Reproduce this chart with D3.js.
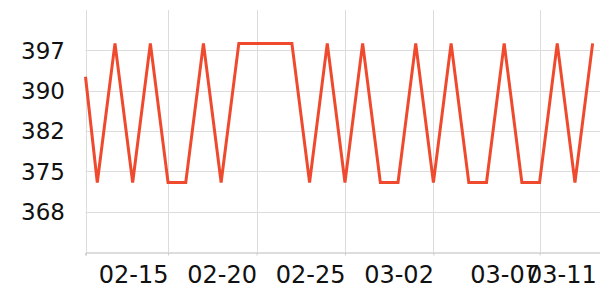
<!DOCTYPE html>
<meta charset="utf-8">
<style>
body { margin: 0; background: #fff; }
text { font-family: "DejaVu Sans", sans-serif; fill: #111; }
</style>
<body>
<svg width="600" height="300"></svg>
<script src="https://cdnjs.cloudflare.com/ajax/libs/d3/7.8.5/d3.min.js"></script>
<script>
// readings, one per day (first point is mid-morning of 02-10)
var dates = [
  "2023-02-10 08:00", "2023-02-11 00:00", "2023-02-12 00:00", "2023-02-13 00:00",
  "2023-02-14 00:00", "2023-02-15 00:00", "2023-02-16 00:00", "2023-02-17 00:00",
  "2023-02-18 00:00", "2023-02-19 00:00", "2023-02-20 00:00", "2023-02-21 00:00",
  "2023-02-22 00:00", "2023-02-23 00:00", "2023-02-24 00:00", "2023-02-25 00:00",
  "2023-02-26 00:00", "2023-02-27 00:00", "2023-02-28 00:00", "2023-03-01 00:00",
  "2023-03-02 00:00", "2023-03-03 00:00", "2023-03-04 00:00", "2023-03-05 00:00",
  "2023-03-06 00:00", "2023-03-07 00:00", "2023-03-08 00:00", "2023-03-09 00:00",
  "2023-03-10 00:00", "2023-03-11 00:00"
]
var values = [
  392, 373, 398, 373, 398, 373, 373, 398, 373, 398,
  398, 398, 398, 373, 398, 373, 398, 373, 373, 398,
  373, 398, 373, 373, 398, 373, 373, 398, 373, 398
]
var xEnd = "2023-03-11 10:00"
var xTickDates = ["2023-02-15 00:00", "2023-02-20 00:00", "2023-02-25 00:00", "2023-03-02 00:00", "2023-03-08 00:00", "2023-03-11 05:00"]
var xTickLabels = ["02-15", "02-20", "02-25", "03-02", "03-07", "03-11"]
var yDomain = [360.5, 404]
var yTicks = [367.75, 375, 382.25, 389.5, 396.75]
var yTickLabels = ["368", "375", "382", "390", "397"]

var parse = d3.timeParse("%Y-%m-%d %H:%M")
var data = dates.map(function(d, i) {
  return {date: parse(d), value: values[i]}
})

var mLeft = 85.5, mRight = 600, mTop = 10, mBottom = 252

var x = d3.scaleTime()
  .domain([data[0].date, parse(xEnd)])
  .range([mLeft, mRight])
var y = d3.scaleLinear()
  .domain(yDomain)
  .range([mBottom, mTop])

var svg = d3.select('svg')

// grid
svg.append('g').selectAll('line')
  .data(yTicks)
  .enter().append('line')
  .attr('x1', mLeft).attr('x2', mRight)
  .attr('y1', function(d) { return Math.round(y(d)) + 0.5 })
  .attr('y2', function(d) { return Math.round(y(d)) + 0.5 })
  .attr('stroke', '#dcdcdc')

var xt = xTickDates.map(parse)
// no gridline under the last label, it sits at the chart edge
svg.append('g').selectAll('line')
  .data([data[0].date].concat(xt.slice(0, -1)))
  .enter().append('line')
  .attr('x1', function(d) { return Math.round(x(d)) + 0.5 })
  .attr('x2', function(d) { return Math.round(x(d)) + 0.5 })
  .attr('y1', mTop).attr('y2', mBottom)
  .attr('stroke', '#dcdcdc')

// x axis
var xAxis = d3.axisBottom(x)
  .tickValues([data[0].date].concat(xt))
  .tickSize(3)
  .tickPadding(10)
  .tickFormat(function(d, i) { return i === 0 ? '' : xTickLabels[i - 1] })

var gx = svg.append('g')
  .attr('transform', 'translate(0,' + (mBottom + 0.5) + ')')
  .call(xAxis)
gx.select('.domain').attr('stroke', '#bbb')
gx.selectAll('.tick line').attr('stroke', '#ccc')
gx.selectAll('.tick line').filter(function(d, i) { return i === xt.length }).remove()
gx.selectAll('.tick text')
  .attr('text-anchor', 'end')
  .attr('font-size', 24)
  .attr('fill', '#111')

// y labels
svg.append('g').selectAll('text')
  .data(yTicks)
  .enter().append('text')
  .attr('x', 65)
  .attr('y', function(d) { return y(d) })
  .attr('dy', '0.36em')
  .attr('text-anchor', 'end')
  .attr('font-size', 23)
  .text(function(d, i) { return yTickLabels[i] })

// line
var line = d3.line()
  .x(function(d) { return x(d.date) })
  .y(function(d) { return y(d.value) })

svg.append('path')
  .datum(data)
  .attr('d', line)
  .attr('fill', 'none')
  .attr('stroke', '#ef4a2e')
  .attr('stroke-width', 3)
  .attr('stroke-linejoin', 'miter')
</script>
</body>
</html>
